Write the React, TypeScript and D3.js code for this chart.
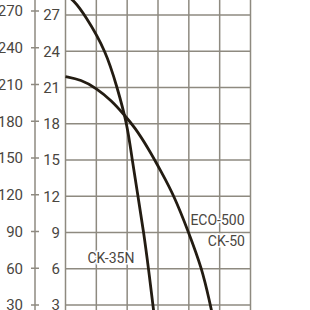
import React, { useRef, useEffect } from 'react';
import * as d3 from 'd3';

// flow in grid units (0..6), head in m
const ck35nFlow = [0, 0.254, 0.634, 1.317, 1.675, 2.0, 2.163, 2.351, 2.537, 2.693, 2.855, 2.9];
const ck35nHead = [28.7, 28.24, 27.0, 24.0, 21.0, 18.0, 15.0, 12.0, 9.0, 6.0, 2.6, 1.6];

const eco500Flow = [0, 0.5, 1.0, 1.5, 1.9, 2.25, 2.7, 3.1, 3.53, 3.98, 4.43, 4.68, 4.8];
const eco500Head = [21.9, 21.65, 20.95, 19.9, 18.75, 17.7, 15.9, 14.05, 12.0, 9.1, 6.0, 3.2, 1.8];

const headTicks = [3, 6, 9, 12, 15, 18, 21, 24, 27];
const feetTicks = [30, 60, 90, 120, 150, 180, 210, 240, 270];
const flowGrid = [0, 1, 2, 3, 4, 5, 6];

const curveLabels = [
  { text: 'ECO-500', flow: 4.05, head: 9.6, anchor: 'start' },
  { text: 'CK-50', flow: 5.82, head: 7.9, anchor: 'end' },
  { text: 'CK-35N', flow: 0.71, head: 6.5, anchor: 'start' },
];

const App = () => {
  const svgRef = useRef<SVGSVGElement>(null);

  useEffect(() => {
    const width = 310;
    const height = 310;
    const ink = '#4a463f';
    const gridColor = '#8e8a80';

    const svg = d3.select(svgRef.current);
    svg.selectAll('*').remove();

    const x = d3.scaleLinear().domain([0, 6]).range([65.5, 250.5]);
    const yHead = d3.scaleLinear().domain([3, 27]).range([305, 15]);
    const yFeet = d3.scaleLinear().domain([30, 270]).range([305, 11]);

    // grid
    const grid = svg.append('g').attr('stroke', gridColor).attr('stroke-width', 1.5);
    grid.selectAll('line.h')
      .data(headTicks)
      .join('line')
      .attr('x1', x(0)).attr('x2', x(6))
      .attr('y1', d => yHead(d)).attr('y2', d => yHead(d));
    grid.selectAll('line.v')
      .data(flowGrid)
      .join('line')
      .attr('x1', d => x(d)).attr('x2', d => x(d))
      .attr('y1', 0).attr('y2', height);

    // left axis (feet)
    const axisX = 35;
    svg.append('line')
      .attr('x1', axisX).attr('x2', axisX)
      .attr('y1', 0).attr('y2', height)
      .attr('stroke', gridColor).attr('stroke-width', 1.5);
    svg.append('g')
      .selectAll('line')
      .data(feetTicks)
      .join('line')
      .attr('x1', axisX - 4).attr('x2', axisX + 4)
      .attr('y1', d => yFeet(d)).attr('y2', d => yFeet(d))
      .attr('stroke', gridColor).attr('stroke-width', 1.5);

    const font = 'Roboto, sans-serif';
    svg.append('g')
      .selectAll('text')
      .data(feetTicks)
      .join('text')
      .attr('x', 23)
      .attr('y', d => yFeet(d))
      .attr('dy', '0.36em')
      .attr('text-anchor', 'end')
      .attr('font-family', font)
      .attr('font-size', 15)
      .attr('fill', ink)
      .text(d => d);

    svg.append('g')
      .selectAll('text')
      .data(headTicks)
      .join('text')
      .attr('x', 60)
      .attr('y', d => yHead(d))
      .attr('dy', '0.36em')
      .attr('text-anchor', 'end')
      .attr('font-family', font)
      .attr('font-size', 15)
      .attr('fill', ink)
      .text(d => d);

    // curves
    const line = d3.line<[number, number]>()
      .x(d => x(d[0]))
      .y(d => yHead(d[1]))
      .curve(d3.curveBasis);

    const series = [
      d3.zip(ck35nFlow, ck35nHead) as [number, number][],
      d3.zip(eco500Flow, eco500Head) as [number, number][],
    ];
    svg.append('g')
      .selectAll('path')
      .data(series)
      .join('path')
      .attr('d', d => line(d))
      .attr('fill', 'none')
      .attr('stroke', '#231c12')
      .attr('stroke-width', 2.8);

    // curve labels
    svg.append('g')
      .selectAll('text')
      .data(curveLabels)
      .join('text')
      .attr('x', d => x(d.flow))
      .attr('y', d => yHead(d.head))
      .attr('text-anchor', d => d.anchor)
      .attr('font-family', font)
      .attr('font-size', 14)
      .attr('fill', ink)
      .attr('stroke', 'white')
      .attr('stroke-width', 3)
      .attr('paint-order', 'stroke')
      .text(d => d.text);

    svg.attr('width', width).attr('height', height);
  }, []);

  return (
    <svg
      ref={svgRef}
      width={310}
      height={310}
      style={{ position: 'fixed', left: 0, top: 0, background: 'white' }}
    ></svg>
  );
};

export default App;
